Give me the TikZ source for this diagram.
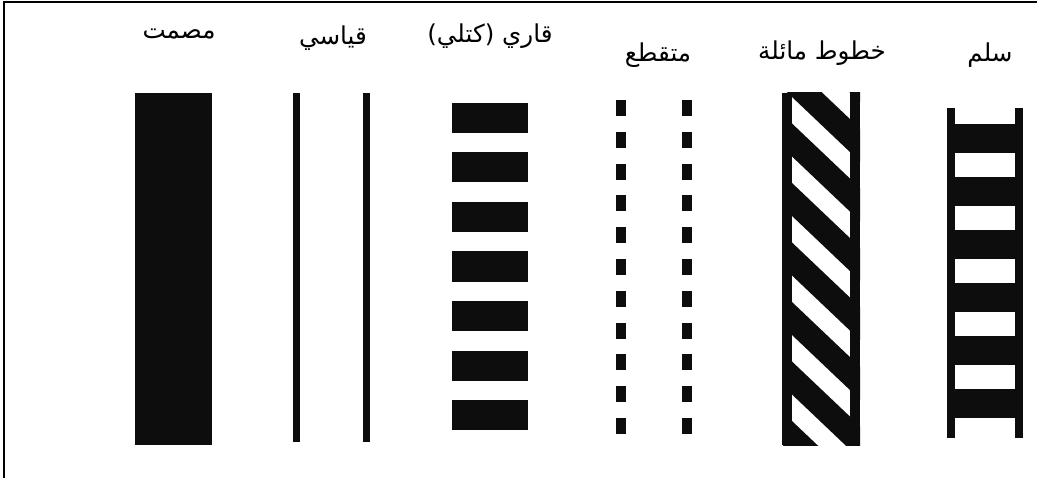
\documentclass[tikz,border=0pt]{standalone}
\usepackage{fontspec}
\TeXXeTstate=1
\newfontfamily\arabicfont[Script=Arabic]{DejaVu Sans}
\usetikzlibrary{calc, positioning}

\tikzset{
    lbl/.style={font=\arabicfont\fontsize{17.5}{20}\selectfont, inner sep=0pt},
    ink/.style={fill=black!95, draw=none},
}

\begin{document}
\begin{tikzpicture}[x=0.025cm, y=-0.025cm]
    \pgfmathsetmacro{\slope}{0.95}
    \pgfmathsetmacro{\band}{33}
    \useasboundingbox (0,0) rectangle (1037,478);
    \coordinate (TL) at (4,2);
    \coordinate (TR) at (1037,2);
    \coordinate (BL) at (4,478);
    \draw[line width=1.4pt] (BL) -- (TL) -- (TR);

    \node[lbl] (Sol) at (179,34) {\beginR مصمت\endR};
    \node[lbl] (Std) at (333,38) {\beginR قياسي\endR};
    \node[lbl] (Blk) at (490,36) {\beginR قاري (كتلي)\endR};
    \node[lbl] (Dsh) at (658,55) {\beginR متقطع\endR};
    \node[lbl] (Slt) at (822,53) {\beginR خطوط مائلة\endR};
    \node[lbl] (Lad) at (990,55) {\beginR سلم\endR};

    % solid
    \fill[ink] (135,93) rectangle (212,445);

    % two plain lines
    \fill[ink] (293,93) rectangle (300,442);
    \fill[ink] (363,93) rectangle (370,442);

    % blocks
    \foreach \k in {0,...,6}
        \fill[ink] (452,{103+49.5*\k}) rectangle (528,{133+49.5*\k});

    % dots
    \foreach \k in {0,...,10} {
        \fill[ink] (616,{100+31.8*\k}) rectangle (626,{116+31.8*\k});
        \fill[ink] (682,{100+31.8*\k}) rectangle (692,{116+31.8*\k});
    }

    % slanted stripes
    \begin{scope}
        \clip (782,93) rectangle (860,445);
        \foreach \k in {-1,...,6}
            \fill[ink] (782,{64+59.5*\k-10*\slope}) -- (860,{64+59.5*\k+68*\slope})
                -- (860,{64+59.5*\k+68*\slope+\band}) -- (782,{64+59.5*\k-10*\slope+\band}) -- cycle;
    \end{scope}
    \fill[ink] (782,93) rectangle (792,445);
    \fill[ink] (850,93) rectangle (860,445);

    % ladder
    \fill[ink] (947,108) rectangle (955,438);
    \fill[ink] (1015,108) rectangle (1023,438);
    \foreach \k in {0,...,5}
        \fill[ink] (955,{124+53*\k}) rectangle (1015,{153+53*\k});
\end{tikzpicture}
\end{document}
